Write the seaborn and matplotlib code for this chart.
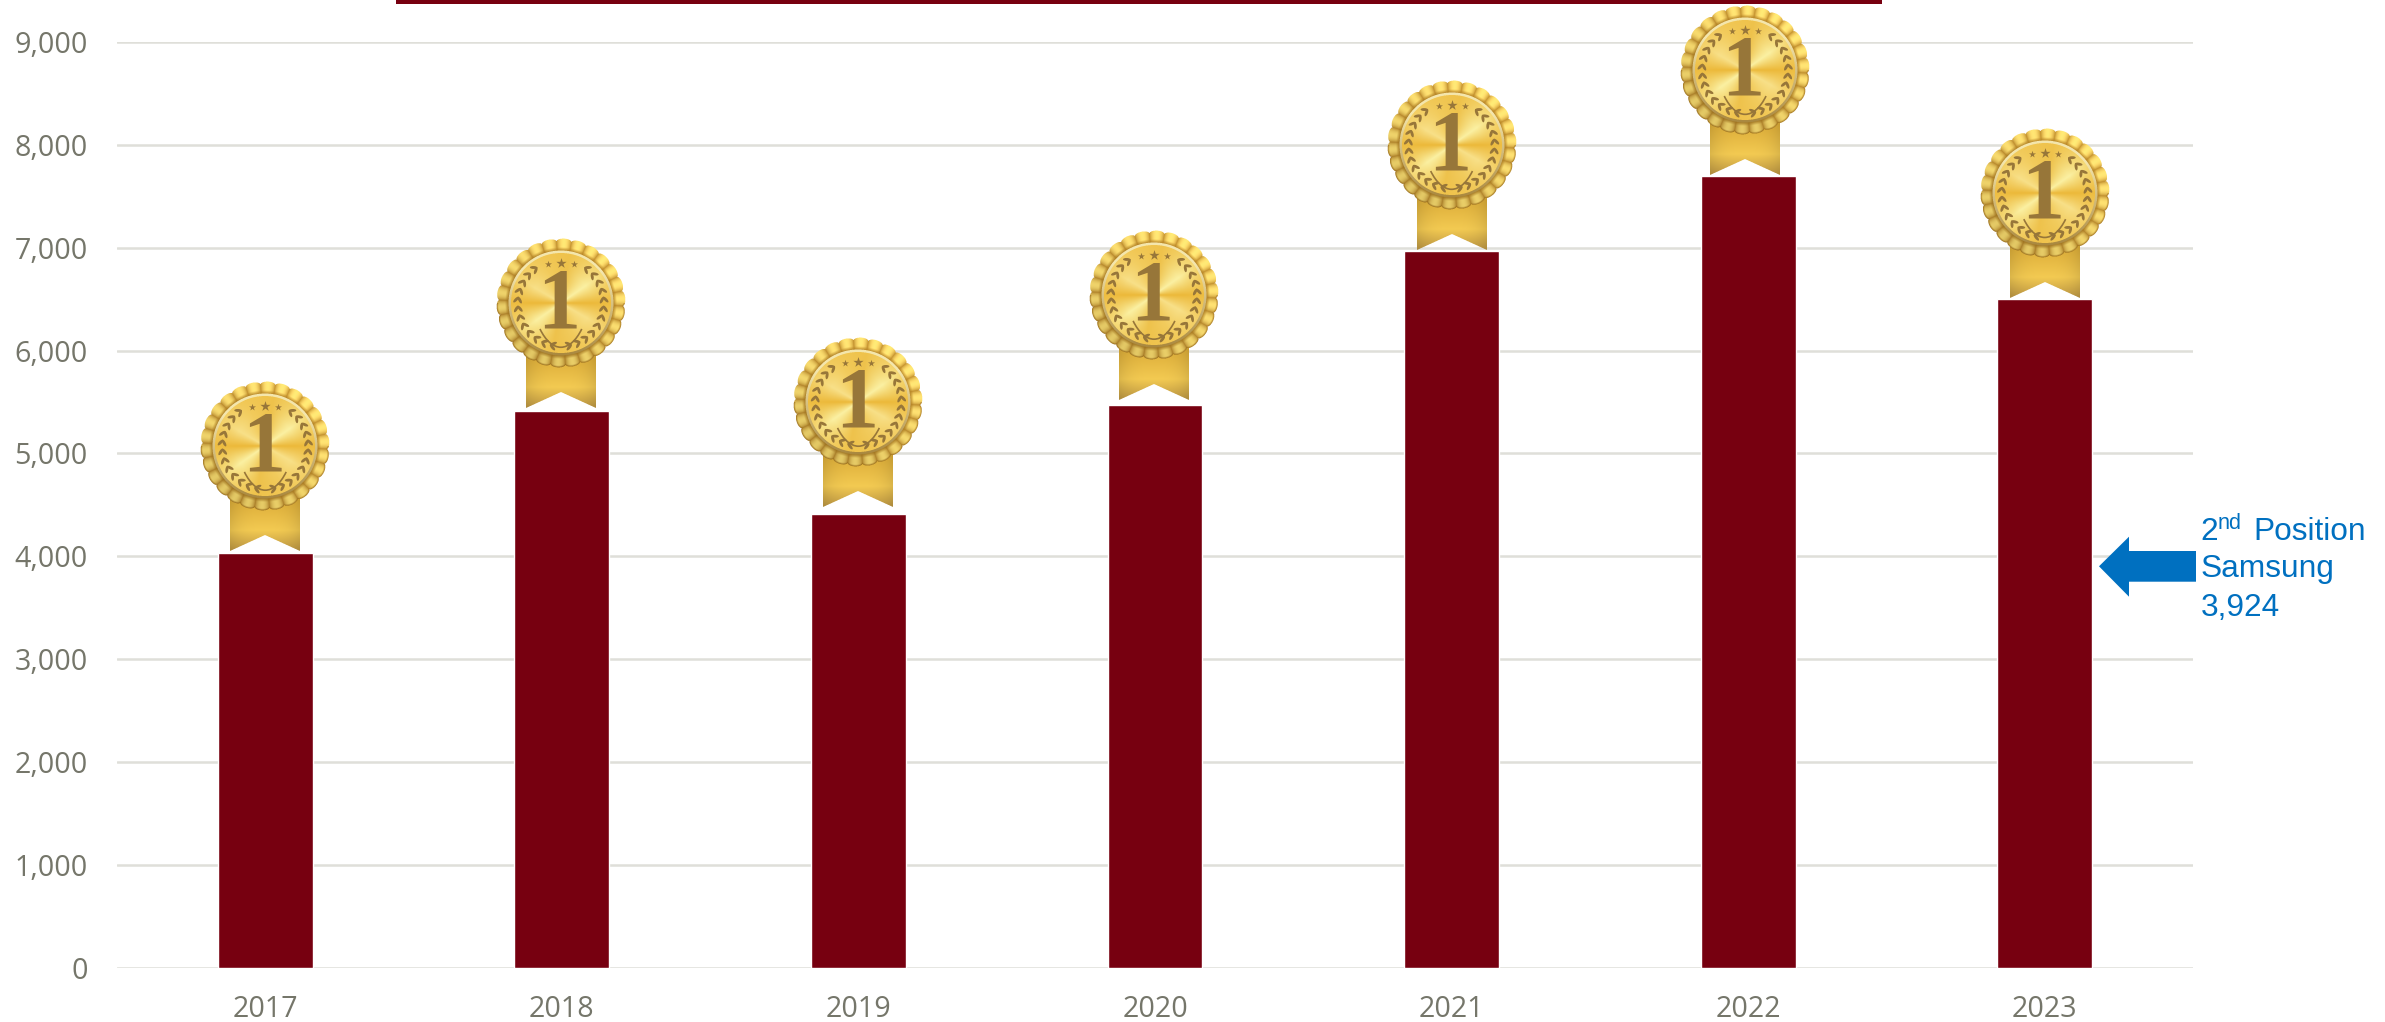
#!/usr/bin/env python3
import numpy as np
import pandas as pd
import matplotlib
matplotlib.use('Agg')
import matplotlib.pyplot as plt
from matplotlib.patches import Polygon, Rectangle, Ellipse, Arc
import seaborn as sns

years = ['2017', '2018', '2019', '2020', '2021', '2022', '2023']
units = [4030, 5410, 4409, 5469, 6965, 7694, 6497]
y_ticks = [0, 1000, 2000, 3000, 4000, 5000, 6000, 7000, 8000, 9000]
note_lines = ['Position', 'Samsung', '3,924']

# medal placement per bar, in pixels: centre above the bar top, shift sideways
medal_lift = [107, 108, 112, 110, 106, 106, 106]
medal_shift = [0, -1, 0, -1, 0, -3, 0]

W, H = 2385, 1022
BAR = '#770010'
GRID = '#dfdfd9'
TICK = '#75766a'
BLUE = '#0070c0'
BROWN = '#977639'

sns.set_theme(style='white')
plt.rcParams['font.family'] = ['Open Sans', 'DejaVu Sans']

fig = plt.figure(figsize=(W / 100, H / 100), dpi=100)
ax = fig.add_axes([117 / W, 1 - 967.7 / H, (2193 - 117) / W, (967.7 - 42) / H])

df = pd.DataFrame({'year': years, 'units': units})
sns.barplot(data=df, x='year', y='units', color=BAR, saturation=1, width=0.32, ax=ax)
ax.set_xlim(-0.5, 6.5)
ax.set_ylim(0, 9000)
ax.set_yticks(y_ticks)
ax.set_yticklabels([f'{v:,}' for v in y_ticks])
ax.set_xlabel('')
ax.set_ylabel('')
ax.yaxis.grid(True, color=GRID, lw=1.8)
ax.set_axisbelow(True)
for s in ['top', 'left', 'right', 'bottom']:
    ax.spines[s].set_visible(False)
ax.tick_params(axis='y', length=0, pad=21, labelsize=20.6, labelcolor=TICK)
ax.tick_params(axis='x', length=0, pad=20, labelsize=20.6, labelcolor=TICK)

# overlay in pixel coordinates for the medals, arrow and note
over = fig.add_axes([0, 0, 1, 1])
over.set_xlim(0, W)
over.set_ylim(H, 0)
over.patch.set_alpha(0)
over.axis('off')
over.set_autoscale_on(False)


def rgb(h):
    return np.array(matplotlib.colors.to_rgb(h))


def mix(a, b, t):
    t = np.clip(t, 0, 1)[..., None]
    return a * (1 - t) + b * t


def medal_image(ss=4):
    # medal artwork as an RGBA picture, 140 x 180 px, centred at (70, 70)
    xs = (np.arange(140 * ss) + 0.5) / ss - 70
    ys = 70 - (np.arange(180 * ss) + 0.5) / ss
    dx, dy = np.meshgrid(xs, ys)
    r = np.hypot(dx, dy)
    th = np.arctan2(dy, dx)
    img = np.zeros(dx.shape + (4,))

    # ribbon
    adx = np.abs(dx)
    edge = -89 - 16 * adx / 35
    rib = (adx <= 35) & (dy <= -40) & (dy >= edge)
    t = (-dy - 50) / 55
    c = np.where(t[..., None] < 0.62, mix(rgb('#d9a935'), rgb('#f3ca52'), t / 0.62),
                 mix(rgb('#f3ca52'), rgb('#bd9743'), (t - 0.62) / 0.38))
    c = c * (1 - 0.10 * (adx / 35)[..., None] ** 3)
    img[rib, :3] = c[rib]
    img[rib, 3] = 1

    # scalloped rim
    n = 26
    phase = (th * n / (2 * np.pi) + 0.2) % 1
    lobe = np.sin(np.pi * phase)
    outer = 61.5 + 3 * lobe ** 0.4
    ros = r <= outer
    light = 1 + 0.08 * np.sin(th + 0.6)
    c = mix(rgb('#b5852a'), rgb('#f7da6e'), lobe ** 0.7)
    c = mix(c, rgb('#a97a22'), (56 - r) / 4 * (r < 56))
    c = mix(c, rgb('#a5761f'), (r - outer + 2) / 2 * (dy < 0))
    c = np.clip(c * light[..., None], 0, 1)
    img[ros, :3] = c[ros]
    img[ros, 3] = 1

    # pale ring
    ring = r <= 52.5
    c = mix(rgb('#a9883f'), rgb('#f4e6ad'), (dy / 52 + 1) / 1.6)
    img[ring, :3] = c[ring]

    # brushed metal disc
    disc = r <= 50
    a = np.degrees(th) % 180
    a_pts = [0, 35, 80, 112, 150, 180]
    cols = ['#ecb93a', '#fbf0a2', '#eec24c', '#f2cc5e', '#f8e088', '#ecb93a']
    chan = np.stack([np.interp(a, a_pts, [rgb(h)[i] for h in cols]) for i in range(3)], axis=-1)
    chan = mix(chan, rgb('#f0c24a'), (r - 30) / 40)
    img[disc, :3] = chan[disc]

    # supersampled down with premultiplied alpha
    pre = img.copy()
    pre[..., :3] *= pre[..., 3:]
    h, w = dx.shape
    pre = pre.reshape(h // ss, ss, w // ss, ss, 4).mean(axis=(1, 3))
    out = pre.copy()
    al = np.maximum(out[..., 3:], 1e-6)
    out[..., :3] = np.clip(out[..., :3] / al, 0, 1)
    return out


def laurel(cx, cy, side):
    # side = -1 left branch, +1 right branch
    for deg in np.arange(-76, 58, 12):
        a = np.radians(deg)
        px, py = side * 43 * np.cos(a), -43 * np.sin(a)
        tang = np.degrees(np.arctan2(np.cos(a), side * np.sin(a)))
        for sign in (-1, 1):
            ang = tang + sign * 36
            ox = 3.2 * np.cos(np.radians(ang))
            oy = 3.2 * np.sin(np.radians(ang))
            over.add_patch(Ellipse((cx + px + ox, cy + py + oy), 7.5, 2.9, angle=ang,
                                   color=BROWN, lw=0, zorder=5))


medal = medal_image()

for i, year in enumerate(years):
    cx_px, top_px = ax.transData.transform((i, units[i]))
    cx = cx_px + medal_shift[i]
    cy = H - top_px - medal_lift[i]
    over.imshow(medal, extent=(cx - 70, cx + 70, cy + 110, cy - 70), aspect='auto',
                interpolation='bilinear', zorder=4)
    laurel(cx, cy, -1)
    laurel(cx, cy, 1)
    over.add_patch(Arc((cx, cy - 26), 62, 140, theta1=68, theta2=112, color=BROWN, lw=1.2, zorder=5))
    over.text(cx - 2, cy + 24, '1', family='Liberation Serif', weight='bold', fontsize=62,
              color=BROWN, ha='center', va='baseline', zorder=6)
    over.scatter([cx - 13, cx + 13], [cy - 39, cy - 39], marker='*', s=28, color=BROWN, lw=0, zorder=6)
    over.scatter([cx], [cy - 40], marker='*', s=60, color=BROWN, lw=0, zorder=6)

# strip along the top edge
over.add_patch(Rectangle((396, 0), 1881.7 - 396, 4, color=BAR, lw=0))

# arrow to the 2nd position level
over.add_patch(Polygon([(2099, 566.3), (2129, 536.7), (2129, 551), (2196, 551),
                        (2196, 581.7), (2129, 581.7), (2129, 596.7)],
                       closed=True, color=BLUE, lw=0))

note_font = dict(family='Liberation Sans', color=BLUE, va='baseline', ha='left')
over.text(2200.5, 540, '2', fontsize=22.8, **note_font)
over.text(2218, 529, 'nd', fontsize=15.6, **note_font)
over.text(2253, 540, note_lines[0], fontsize=22.8, **note_font)
over.text(2200.5, 577.5, note_lines[1], fontsize=22.8, **note_font)
over.text(2200.5, 616, note_lines[2], fontsize=22.8, **note_font)

fig.savefig('out.png', dpi=100)
